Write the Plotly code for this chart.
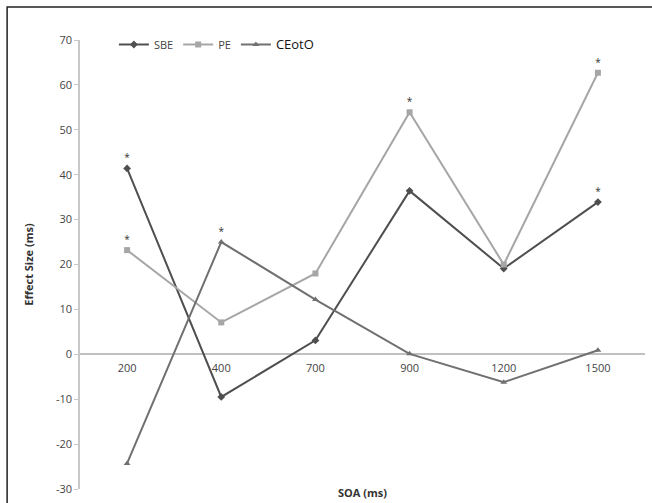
import plotly.graph_objects as go

categories = ["200", "400", "700", "900", "1200", "1500"]
sbe = [41.4, -9.5, 3.1, 36.4, 19.1, 33.9]
pe = [23.2, 7.1, 18.0, 53.9, 20.0, 62.7]
ceoto = [-24.3, 25.0, 12.2, 0.1, -6.2, 0.9]
sbe_sig = ["*", "", "", "", "", "*"]
pe_sig = ["*", "", "", "*", "", "*"]
ceoto_sig = ["", "*", "", "", "", ""]

y_min, y_max = -30, 70
y_ticks = list(range(-30, 71, 10))
y_tick_labels = [str(v) for v in y_ticks]

fig = go.Figure()

def add(name, vals, sig, color, symbol, msize):
    fig.add_trace(go.Scatter(
        x=categories, y=vals, name=name, mode="lines+markers+text",
        text=sig, textposition="top center",
        textfont=dict(size=10, color="#333333"),
        line=dict(color=color, width=2),
        marker=dict(symbol=symbol, size=msize, color=color),
    ))

add("SBE", sbe, sbe_sig, "#4f4f4f", "diamond", 6)
add("PE", pe, pe_sig, "#a6a6a6", "square", 6)
add("<span style='font-size:13px;color:#111111'>CEotO</span>", ceoto, ceoto_sig, "#707070", "triangle-up", 6)

fig.update_layout(
    width=652, height=503,
    margin=dict(l=80, r=7, t=40, b=14, autoexpand=False),
    paper_bgcolor="white", plot_bgcolor="white",
    font=dict(family="Open Sans", size=11, color="#444444"),
    showlegend=True,
    legend=dict(orientation="h", x=0.06, y=0.99, xanchor="left", yanchor="middle",
                font=dict(size=11, color="#444444"), bgcolor="rgba(0,0,0,0)",
                itemwidth=30, traceorder="normal"),
    xaxis=dict(type="category", range=[-0.5, 5.5], anchor="free",
               position=(0 - y_min) / (y_max - y_min),
               showline=False, showgrid=False, zeroline=False, ticks="",
               ticklabelstandoff=6,
               tickfont=dict(size=11, color="#444444")),
    yaxis=dict(range=[y_min, y_max], tickvals=y_ticks, ticktext=y_tick_labels,
               showgrid=False,
               showline=True, linecolor="#c8c8c8", linewidth=1.5,
               ticks="outside", ticklen=4, tickcolor="#c8c8c8",
               zeroline=True, zerolinecolor="#c0c0c0", zerolinewidth=1.5,
               tickfont=dict(size=11, color="#444444"),
               title=dict(text="<b>Effect Size (ms)</b>", font=dict(size=11, color="#333333"),
                          standoff=20)),
    shapes=[dict(type="rect", xref="paper", yref="paper",
                 x0=-0.129, x1=1.3, y0=-0.3, y1=1.0735,
                 line=dict(color="#222222", width=1.5))],
    annotations=[dict(text="<b>SOA (ms)</b>", xref="paper", yref="paper",
                      x=0.5, y=-0.007, xanchor="center", yanchor="middle",
                      showarrow=False, font=dict(size=11, color="#333333"))],
)

fig.write_html("out.html", config={"displayModeBar": False},
               post_script="document.body.style.margin='0';document.body.style.overflow='hidden';")
